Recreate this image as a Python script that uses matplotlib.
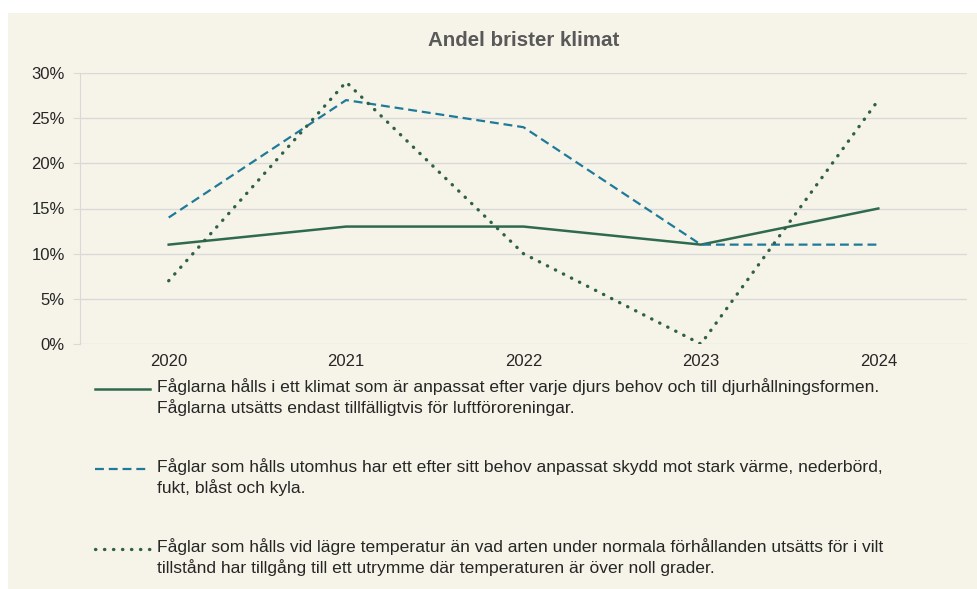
import matplotlib
matplotlib.use("Agg")
import matplotlib.pyplot as plt
from matplotlib.lines import Line2D
from matplotlib.patches import Rectangle
from matplotlib.ticker import FuncFormatter

years = ["2020", "2021", "2022", "2023", "2024"]
klimat = [11, 13, 13, 11, 15]
utomhus = [14, 27, 24, 11, 11]
temperatur = [7, 29, 10, 0, 27]
labels = [
    "Fåglarna hålls i ett klimat som är anpassat efter varje djurs behov och till djurhållningsformen.\nFåglarna utsätts endast tillfälligtvis för luftföroreningar.",
    "Fåglar som hålls utomhus har ett efter sitt behov anpassat skydd mot stark värme, nederbörd,\nfukt, blåst och kyla.",
    "Fåglar som hålls vid lägre temperatur än vad arten under normala förhållanden utsätts för i vilt\ntillstånd har tillgång till ett utrymme där temperaturen är över noll grader.",
]
title = "Andel brister klimat"

plt.rcParams['font.family'] = ['Liberation Sans', 'DejaVu Sans']

W, H = 978, 589
bg = "#f6f4e8"
fig = plt.figure(figsize=(W / 100, H / 100), dpi=100)
fig.patch.set_facecolor("white")
fig.add_artist(Rectangle((8 / W, 0), 1 - 8 / W, 1 - 13 / H, transform=fig.transFigure,
                         facecolor=bg, edgecolor="none", zorder=-10))

ax = fig.add_axes([80 / W, 1 - 344 / H, (967 - 80) / W, (344 - 73) / H])
ax.set_facecolor(bg)
ax.patch.set_alpha(0)

x = list(range(len(years)))
styles = [
    dict(color="#2f6a4f", linestyle="-", linewidth=1.8),
    dict(color="#1f7a9a", linestyle=(0, (4, 2.2)), linewidth=1.6),
    dict(color="#2f6048", linestyle=(0, (0.1, 2.6)), linewidth=2.4, dash_capstyle="round"),
]
series = [klimat, utomhus, temperatur]
for s, st in zip(series, styles):
    ax.plot(x, s, **st, zorder=3)

ax.set_xlim(-0.5, len(years) - 0.5)
ax.set_ylim(0, 30)
ax.set_yticks(range(0, 31, 5))
ax.yaxis.set_major_formatter(FuncFormatter(lambda v, p: f"{int(v)}%"))
ax.set_xticks(x)
ax.set_xticklabels(years)
ax.grid(axis="y", color="#d9d9d9", linewidth=1)
ax.set_axisbelow(True)
for sp in ["top", "right", "bottom"]:
    ax.spines[sp].set_visible(False)
ax.spines["left"].set_color("#d9d9d9")
ax.tick_params(axis="y", length=5, color="#d9d9d9", labelsize=12, labelcolor="#262626", pad=6)
ax.tick_params(axis="x", length=0, labelsize=12, labelcolor="#262626", pad=7)

fig.text(0.5 * (80 + 967) / W + 0.0, 1 - 40 / H, title, ha="center", va="center",
         fontsize=14.8, fontweight="bold", color="#595959")

# legend
legend_y = [389, 469, 549]
for yy, st, lab in zip(legend_y, styles, labels):
    fig.add_artist(Line2D([95 / W, 150 / W], [1 - yy / H, 1 - yy / H], transform=fig.transFigure, **st))
    fig.text(157 / W, 1 - (yy - 11) / H, lab, ha="left", va="top", fontsize=12.6,
             color="#262626", linespacing=1.28)

fig.savefig("out.png", dpi=100, facecolor=fig.get_facecolor())
